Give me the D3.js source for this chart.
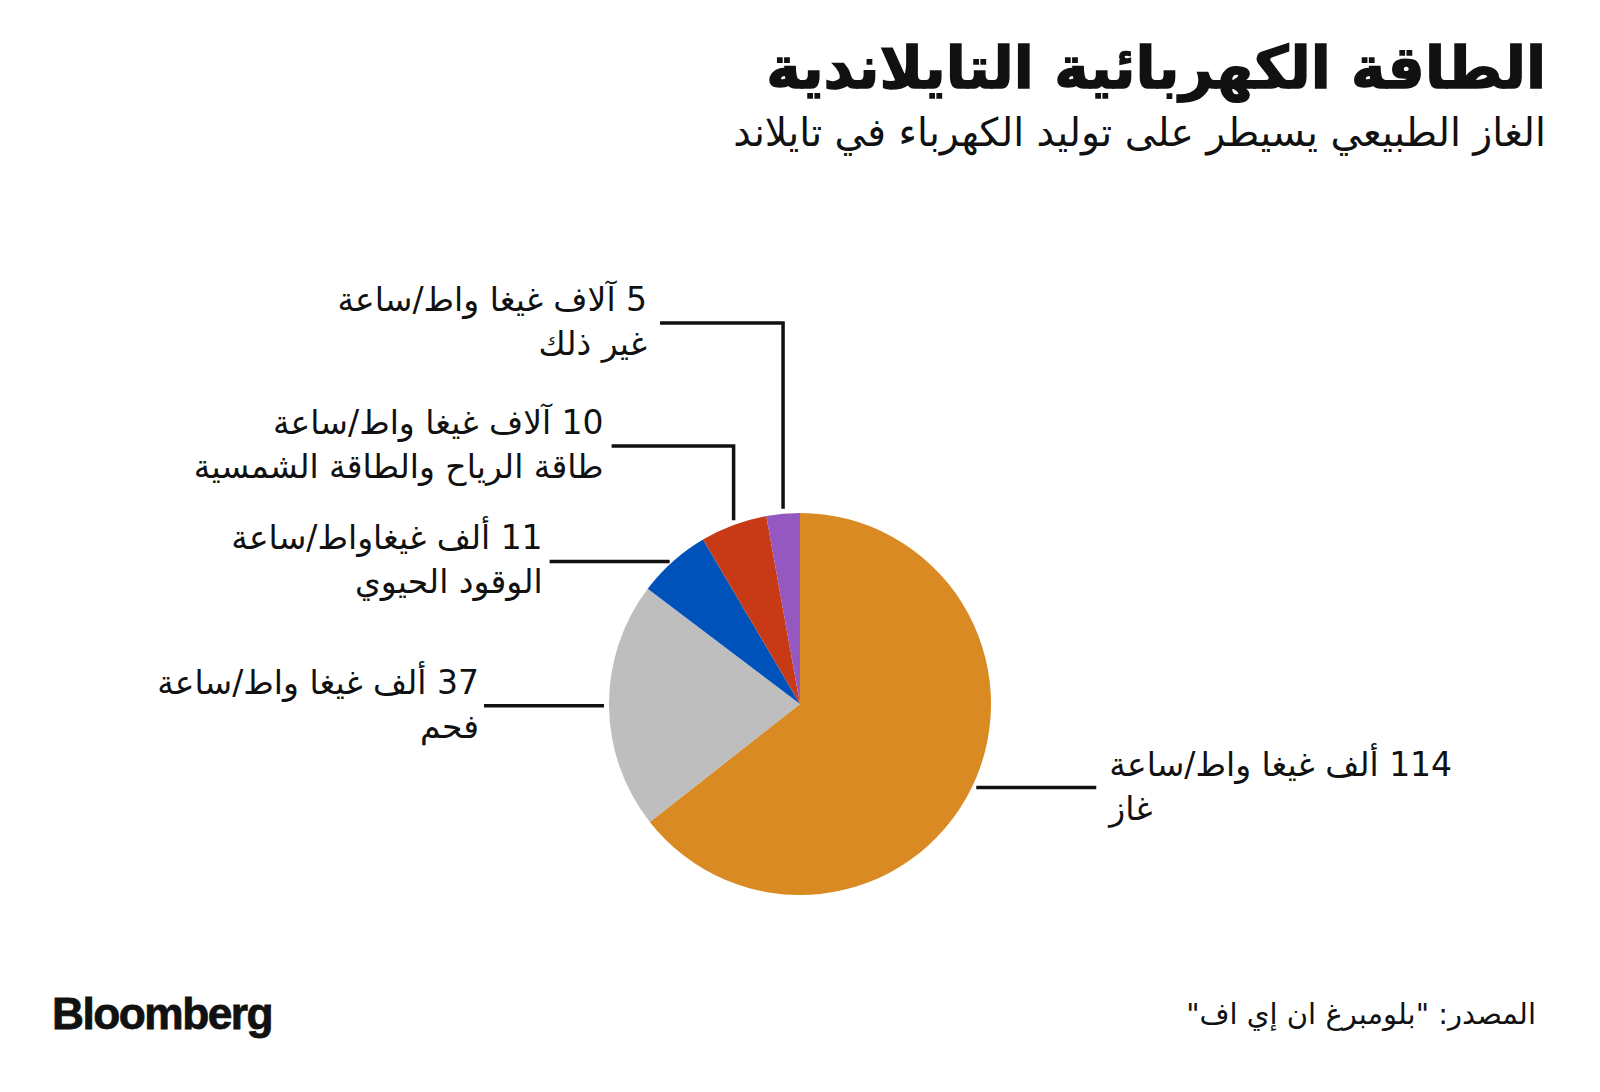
<!DOCTYPE html>
<html><head><meta charset="utf-8">
<script src="https://cdn.jsdelivr.net/npm/d3@7"></script>
<style>
html,body{margin:0;padding:0;background:#fff;}
svg{display:block;}
text{font-family:"DejaVu Sans",sans-serif;fill:#111;}
</style></head>
<body>
<svg id="c" width="1600" height="1092"></svg>
<script>
const categories = ["غاز","فحم","الوقود الحيوي","طاقة الرياح والطاقة الشمسية","غير ذلك"];
const values = [114, 37, 11, 10, 5];
const valueLabels = ["114 ألف غيغا واط/ساعة","37 ألف غيغا واط/ساعة","11 ألف غيغاواط/ساعة","10 آلاف غيغا واط/ساعة","5 آلاف غيغا واط/ساعة"];
const colors = ["#DA8A23","#BEBEBE","#0052BB","#C73A15","#9558C0"];
const title = "الطاقة الكهربائية التايلاندية";
const subtitle = "الغاز الطبيعي يسيطر على توليد الكهرباء في تايلاند";
const source = "المصدر: \"بلومبرغ ان إي اف\"";

const svg = d3.select("#c");
const cx = 800, cy = 704, R = 191;

// title
const t1 = svg.append("text").attr("x",1546).attr("y",88).attr("direction","rtl").attr("text-anchor","start")
  .style("font-weight","bold").style("font-size","60px").style("stroke","#111").style("stroke-width","1.5px").text(title);
const t2 = svg.append("text").attr("x",1546).attr("y",146).attr("direction","rtl").attr("text-anchor","start")
  .style("font-size","36px").text(subtitle);
function fitWidth(sel, w){ const bw = sel.node().getComputedTextLength(); const fs = parseFloat(sel.style("font-size")); sel.style("font-size",(fs*w/bw)+"px"); }
fitWidth(t1, 780);
fitWidth(t2, 813);

const g = svg.append("g").attr("transform",`translate(${cx},${cy})`);
const pie = d3.pie().sort(null).value(d=>d)(values);
const arc = d3.arc().innerRadius(0).outerRadius(R);
g.selectAll("path").data(pie).join("path").attr("d",arc).attr("fill",(d,i)=>colors[i]);

// label layout: side, horizontal length, elbow y (absolute) for vertical leaders, text gap
const layout = [
  {side:"right", len:120, gap:13},
  {side:"left", len:120, gap:5},
  {side:"left", len:120, gap:7},
  {side:"left", len:122, elbowY:446, gap:8},
  {side:"left", len:123, elbowY:323, gap:13}
];
const lg = svg.append("g");
pie.forEach((d,i)=>{
  const a = (d.startAngle+d.endAngle)/2;
  const L = layout[i];
  const px = cx + (R+5)*Math.sin(a), py = cy - (R+5)*Math.cos(a);
  let pts, ly, tx;
  if (L.elbowY !== undefined) {
    const x = cx + R*Math.sin(a);
    pts = [[x - L.len, L.elbowY],[x, L.elbowY],[x, py]];
    ly = L.elbowY; tx = x - L.len - L.gap;
  } else if (L.side === "right") {
    const y = cy - R*Math.cos(a);
    pts = [[px, y],[px + L.len, y]];
    ly = y; tx = px + L.len + L.gap;
  } else {
    const y = cy - R*Math.cos(a);
    pts = [[px - L.len, y],[px, y]];
    ly = y; tx = px - L.len - L.gap;
  }
  lg.append("path").attr("d",d3.line()(pts)).attr("fill","none").attr("stroke","#111").attr("stroke-width",3.5);
  const anchor = L.side === "right" ? "end" : "start";
  lg.append("text").attr("x",tx).attr("y",ly-12).attr("direction","rtl").attr("text-anchor",anchor)
    .style("font-size","33px").text(valueLabels[i]);
  lg.append("text").attr("x",tx).attr("y",ly+32).attr("direction","rtl").attr("text-anchor",anchor)
    .style("font-size","33px").text(categories[i]);
});

// footer
const bl = svg.append("text").attr("x",52).attr("y",1029).style("font-family","'Liberation Sans',Arial,sans-serif")
  .style("font-weight","bold").style("font-size","38px").style("letter-spacing","-1.5px")
  .style("stroke","#111").style("stroke-width","0.8px").text("Bloomberg");
fitWidth(bl, 218);
svg.append("text").attr("x",1536).attr("y",1024).attr("direction","rtl").attr("text-anchor","start")
  .style("font-size","29px").text(source);
</script>
</body></html>
